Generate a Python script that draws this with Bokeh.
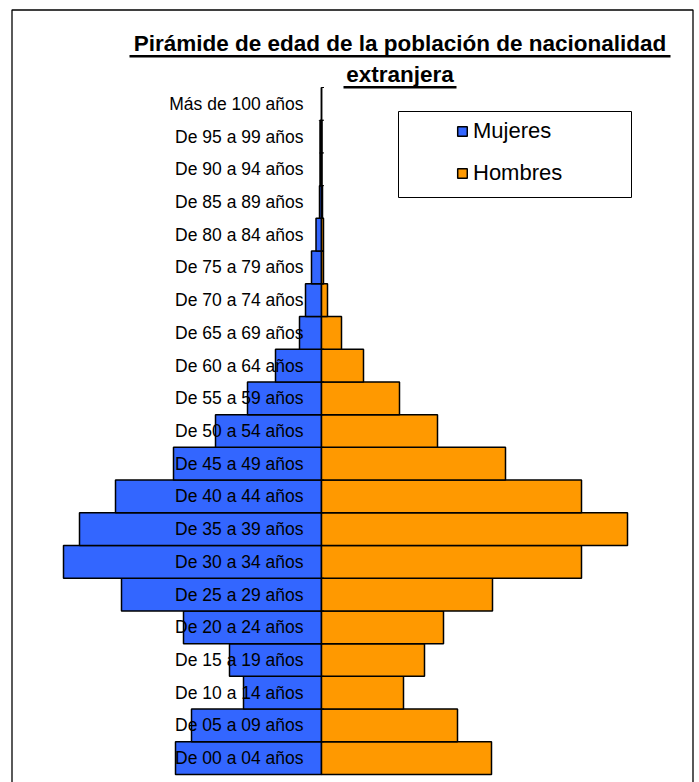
from bokeh.plotting import figure
from bokeh.models import Range1d, Legend, LegendItem, ColumnDataSource
from bokeh.core.properties import value
from bokeh.embed import file_html
from bokeh.resources import INLINE

# ---------------- data ----------------
grupos = ["De 00 a 04 años", "De 05 a 09 años", "De 10 a 14 años", "De 15 a 19 años",
          "De 20 a 24 años", "De 25 a 29 años", "De 30 a 34 años", "De 35 a 39 años",
          "De 40 a 44 años", "De 45 a 49 años", "De 50 a 54 años", "De 55 a 59 años",
          "De 60 a 64 años", "De 65 a 69 años", "De 70 a 74 años", "De 75 a 79 años",
          "De 80 a 84 años", "De 85 a 89 años", "De 90 a 94 años", "De 95 a 99 años",
          "Más de 100 años"]
mujeres = [1460, 1300, 780, 920, 1380, 2000, 2580, 2420, 2060, 1480, 1060,
           740, 460, 220, 160, 100, 55, 20, 15, 15, 0]
hombres = [1700, 1360, 820, 1030, 1220, 1710, 2600, 3060, 2600, 1840, 1160,
           780, 420, 200, 60, 20, 20, 10, 5, 5, 0]
titulo1 = "Pirámide de edad de la población de nacionalidad"
titulo2 = "extranjera"

# ---------------- layout helpers (canvas pixel positions) ----------------
W, H = 699, 782
AX = 321                                    # canvas x of the zero axis
UPX = 10.0                                  # data units per pixel (x)
C0 = 757.64                                 # canvas y of the centre of the first group
PPY = 32.714                                # pixels per group


def px2x(px):
    return (px - AX) * UPX


def px2y(py):
    return (C0 - py) / PPY


FONT = value("Liberation Sans")

p = figure(width=W, height=H, output_backend="svg", toolbar_location=None,
           x_axis_location=None, y_axis_location=None, title=None,
           x_range=Range1d(px2x(0), px2x(W)), y_range=Range1d(px2y(H), px2y(0)),
           min_border_left=0, min_border_right=0,
           min_border_top=0, min_border_bottom=0)
p.grid.visible = False
p.outline_line_color = None
p.background_fill_color = "white"
p.border_fill_color = "white"

# chart-area border (left, top, right; runs off the bottom)
p.line(x=[px2x(11.5), px2x(11.5), px2x(692.5), px2x(692.5)],
       y=[px2y(790), px2y(9.5), px2y(9.5), px2y(790)],
       line_color="black", line_width=1.3)

idx = list(range(len(grupos)))
src = ColumnDataSource(dict(y=idx, g=grupos,
                            mneg=[-v for v in mujeres], h=hombres,
                            zero=[0] * len(idx)))

rw = p.hbar(y="y", left="mneg", right="zero", height=1.0, source=src,
            fill_color="#3366FF", line_color="black", line_width=1.5)
rm = p.hbar(y="y", left="zero", right="h", height=1.0, source=src,
            fill_color="#FF9900", line_color="black", line_width=1.5)

# vertical category axis at zero with small ticks
n = len(grupos)
p.segment(x0=[0], y0=[-0.5], x1=[0], y1=[n - 0.5], line_color="black", line_width=1)
p.segment(x0=[0] * (n + 1), y0=[i - 0.5 for i in range(n + 1)],
          x1=[2.5 * UPX] * (n + 1), y1=[i - 0.5 for i in range(n + 1)],
          line_color="black", line_width=1)

# category labels, drawn over the bars
p.text(x="zero", y="y", text="g", source=src, x_offset=-18,
       text_align="right", text_baseline="middle",
       text_font=FONT, text_font_size="17.5px", text_color="black")

# title (bold, underlined, two lines)
tc = px2x(399.5)
p.text(x=[tc, tc], y=[px2y(43), px2y(73.5)], text=[titulo1, titulo2],
       text_align="center", text_baseline="middle",
       text_font=FONT, text_font_size="22.5px", text_font_style="bold",
       text_color="black")
p.quad(left=[px2x(129), px2x(343)], right=[px2x(670), px2x(456)],
       top=[px2y(54.5), px2y(85.5)], bottom=[px2y(57), px2y(88)],
       fill_color="black", line_color=None)

# legend box
p.quad(left=[px2x(398)], right=[px2x(631)], top=[px2y(111)], bottom=[px2y(197)],
       fill_color="white", line_color="black", line_width=1)

legend = Legend(items=[LegendItem(label="Mujeres", renderers=[rw]),
                       LegendItem(label="Hombres", renderers=[rm])],
                location=(446, H - 196), orientation="vertical",
                label_text_font="Liberation Sans", label_text_font_size="22px",
                label_text_color="black",
                glyph_width=12, glyph_height=12, label_standoff=5,
                label_height=25, spacing=16, padding=10, margin=0,
                border_line_alpha=0, background_fill_alpha=0)
p.add_layout(legend)

open("out.html", "w").write(file_html(p, INLINE))
